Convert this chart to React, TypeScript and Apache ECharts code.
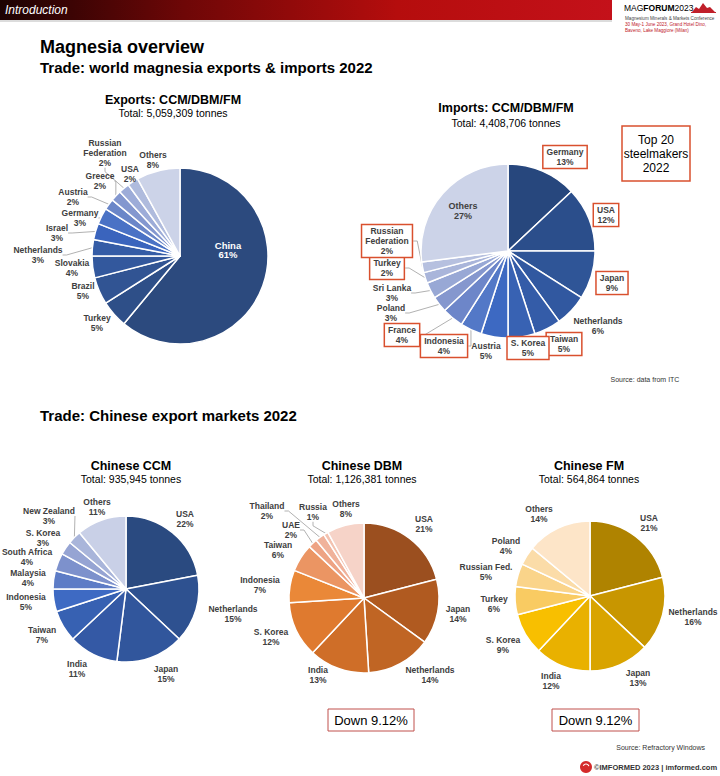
import React, { useEffect, useRef } from "react";
import * as echarts from "echarts";

// ---------- DATA ----------
const exportNames = ["China", "Turkey", "Brazil", "Slovakia", "Netherlands", "Israel", "Germany", "Austria", "Greece", "Russian\nFederation", "USA", "Others"];
const exportValues = [61, 5, 5, 4, 3, 3, 3, 2, 2, 2, 2, 8];

const importNames = ["Germany", "USA", "Japan", "Netherlands", "Taiwan", "S. Korea", "Austria", "Indonesia", "France", "Poland", "Sri Lanka", "Turkey", "Russian\nFederation", "Others"];
const importValues = [13, 12, 9, 6, 5, 5, 5, 4, 4, 3, 3, 2, 2, 27];
const importBoxed = ["Germany", "USA", "Japan", "Taiwan", "S. Korea", "Indonesia", "France", "Turkey", "Russian\nFederation"];

const ccmNames = ["USA", "Netherlands", "Japan", "India", "Taiwan", "Indonesia", "Malaysia", "South Africa", "S. Korea", "New Zealand", "Others"];
const ccmValues = [22, 15, 15, 11, 7, 5, 4, 4, 3, 3, 11];

const dbmNames = ["USA", "Japan", "Netherlands", "India", "S. Korea", "Indonesia", "Taiwan", "UAE", "Thailand", "Russia", "Others"];
const dbmValues = [21, 14, 14, 13, 12, 7, 6, 2, 2, 1, 8];

const fmNames = ["USA", "Netherlands", "Japan", "India", "S. Korea", "Turkey", "Russian Fed.", "Poland", "Others"];
const fmValues = [21, 16, 13, 12, 9, 6, 5, 4, 14];

const exportTotal = "5,059,309";
const importTotal = "4,408,706";
const ccmTotal = "935,945";
const dbmTotal = "1,126,381";
const fmTotal = "564,864";
const changeLabel = "Down 9.12%";

// ---------- PALETTES ----------
const exportColors = ["#2c4a7e", "#2e4f88", "#315493", "#33589d", "#355ca6", "#3a64bd", "#4a72c5", "#6a86c8", "#8397cf", "#9dacd8", "#afbbdd", "#ccd3e8"];
const importColors = ["#27477d", "#2b4e8b", "#2f5597", "#3158a0", "#345ca8", "#3862b3", "#3d69c2", "#5378c7", "#6d86c9", "#8597ce", "#98a8d5", "#a9b5da", "#b6c0df", "#ccd3e8"];
const ccmColors = ["#2a4a80", "#2e5190", "#31569c", "#3459a5", "#3761b2", "#3e6ac3", "#5d7cc6", "#7d91cc", "#96a4d3", "#a9b5da", "#c9d0e7"];
const dbmColors = ["#9b4f1f", "#b05a20", "#c06524", "#cf6e28", "#df7a2f", "#ea8838", "#eb9563", "#eea384", "#f0b29b", "#f3c2b0", "#f6d3c8"];
const fmColors = ["#af8300", "#c89600", "#d9a400", "#e9b100", "#f8bf00", "#f9cb62", "#fad48a", "#fbdca8", "#fde5c8"];

// ---------- LABEL LAYOUT (offsets of each label from its pie's centre, as placed in the slide) ----------
const exportLabelOffsets = [[48, -6], [-83, 67], [-97, 35], [-108, 12], [-142, -1], [-123, -23], [-100, -38], [-107, -59], [-80, -75], [-75, -103], [-50, -82], [-27, -96]];
const importLabelOffsets = [[57, -94], [98, -36], [104, 32], [90, 75], [56, 93], [20, 97], [-22, 100], [-64, 95], [-106, 84], [-117, 62], [-116, 42], [-121, 17], [-121, -10], [-45, -40]];
const ccmLabelOffsets = [[59, -70], [107, 25], [40, 85], [-49, 80], [-84, 46], [-100, 13], [-98, -11], [-99, -32], [-83, -51], [-77, -73], [-29, -82]];
const dbmLabelOffsets = [[60, -74], [94, 16], [66, 77], [-46, 77], [-93, 39], [-104, -13], [-86, -48], [-73, -68], [-97, -87], [-51, -86], [-18, -89]];
const fmLabelOffsets = [[59, -73], [103, 21], [48, 82], [-39, 85], [-87, 49], [-96, 8], [-104, -24], [-84, -50], [-51, -82]];

const exportLined = ["Netherlands", "Israel", "Germany", "Austria", "Greece", "Russian\nFederation", "USA"];
const importLined = ["Indonesia", "France", "Poland", "Sri Lanka", "Turkey", "Russian\nFederation"];
const ccmLined = ["New Zealand"];
const dbmLined = ["UAE", "Thailand", "Russia"];
const fmLined: string[] = [];

const FONT = "Liberation Sans, Arial, sans-serif";
const LABEL_COLOR = "#404040";
const BOX_RED = "#d9502e";
const LINE_COLOR = "#a8a8a8";

function makeData(names: string[], values: number[], colors: string[], lined: string[], extra?: (n: string) => any) {
  return names.map((n, i) => {
    const item: any = {
      name: n,
      value: values[i],
      itemStyle: { color: colors[i] },
      labelLine: { show: lined.includes(n), length: 4, length2: 4, lineStyle: { color: LINE_COLOR, width: 0.9 } },
    };
    const e = extra ? extra(n) : null;
    if (e) item.label = e;
    return item;
  });
}

function pie(id: string, data: any[], center: [number, number], radius: number, offsets: number[][]) {
  return {
    type: "pie",
    id,
    center,
    radius,
    startAngle: 90,
    clockwise: true,
    avoidLabelOverlap: false,
    minShowLabelAngle: 0,
    itemStyle: { borderColor: "#ffffff", borderWidth: 1.5 },
    label: {
      show: true,
      position: "outside",
      formatter: (p: any) => `${p.name}\n${p.value}%`,
      fontFamily: FONT,
      fontSize: 8.5,
      fontWeight: "bold",
      color: LABEL_COLOR,
      lineHeight: 9.8,
      align: "center",
      overflow: "none",
    },
    labelLine: { show: true, length: 4, length2: 4, lineStyle: { color: LINE_COLOR, width: 0.9 } },
    labelLayout: (p: any) => {
      const o = offsets[p.dataIndex] || [0, 0];
      return { x: center[0] + o[0], y: center[1] + o[1], align: "center", verticalAlign: "middle" };
    },
    emphasis: { disabled: true },
    data,
  };
}

function titleText(x: number, y: number, text: string, size: number, bold: boolean, align = "center", color = "#000") {
  return {
    type: "text",
    style: {
      x, y, text, fill: color,
      font: `${bold ? "bold " : ""}${size}px ${FONT}`,
      textAlign: align, textVerticalAlign: "middle",
    },
  };
}

export default function App() {
  const ref = useRef<HTMLDivElement>(null);

  useEffect(() => {
    if (!ref.current) return;
    const chart = echarts.init(ref.current, null, { renderer: "svg" });

    const exportData = makeData(exportNames, exportValues, exportColors, exportLined, (n) =>
      n === "China" ? { position: "inside", color: "#ffffff", fontSize: 9.5 } : null
    );
    const importData = makeData(importNames, importValues, importColors, importLined, (n) => {
      if (n === "Others") return { position: "inside", color: LABEL_COLOR, fontSize: 9 };
      if (importBoxed.includes(n)) return { borderColor: BOX_RED, borderWidth: 1.5, padding: [1, 3], backgroundColor: "#ffffff" };
      return null;
    });
    const ccmData = makeData(ccmNames, ccmValues, ccmColors, ccmLined);
    const dbmData = makeData(dbmNames, dbmValues, dbmColors, dbmLined);
    const fmData = makeData(fmNames, fmValues, fmColors, fmLined);

    const graphics: any[] = [
      // header bar
      {
        type: "rect",
        shape: { x: 0, y: 0, width: 612, height: 20 },
        style: {
          fill: new echarts.graphic.LinearGradient(0, 0, 1, 0, [
            { offset: 0, color: "#1c0202" },
            { offset: 0.3, color: "#6e0707" },
            { offset: 0.65, color: "#b50d0d" },
            { offset: 1, color: "#c4111a" },
          ]),
        },
      },
      { type: "rect", shape: { x: 0, y: 20, width: 612, height: 2 }, style: { fill: "#dcdcdc" } },
      {
        type: "text",
        style: { x: 5, y: 10, text: "Introduction", fill: "#ffffff", font: `italic 12px ${FONT}`, textVerticalAlign: "middle" },
      },
      // MAGFORUM logo
      {
        type: "text",
        style: {
          x: 624, y: 8, textVerticalAlign: "middle",
          text: "{a|MAG}{b|FORUM}{c|2023}",
          rich: {
            a: { fontFamily: FONT, fontSize: 8.5, color: "#c0202a" },
            b: { fontFamily: FONT, fontSize: 8.5, fontWeight: "bold", color: "#c0202a" },
            c: { fontFamily: FONT, fontSize: 8.5, color: "#555555" },
          },
        },
      },
      {
        type: "polygon",
        shape: { points: [[692, 12], [696, 7], [699, 9], [703, 3], [707, 8], [710, 7], [715, 12]] },
        style: { fill: "#c0202a" },
      },
      { type: "rect", shape: { x: 691, y: 12, width: 25, height: 1 }, style: { fill: "#c0202a" } },
      { type: "text", style: { x: 625, y: 18, text: "Magnesium Minerals & Markets Conference", fill: "#444", font: `4.6px ${FONT}`, textVerticalAlign: "middle" } },
      { type: "text", style: { x: 625, y: 24, text: "30 May-1 June 2023, Grand Hotel Dino,", fill: "#c0202a", font: `4.6px ${FONT}`, textVerticalAlign: "middle" } },
      { type: "text", style: { x: 625, y: 30, text: "Baveno, Lake Maggiore (Milan)", fill: "#c0202a", font: `4.6px ${FONT}`, textVerticalAlign: "middle" } },

      // headings
      titleText(40, 47, "Magnesia overview", 18, true, "left"),
      titleText(40, 67, "Trade: world magnesia exports & imports 2022", 15, true, "left"),
      titleText(40, 415, "Trade: Chinese export markets 2022", 15, true, "left"),

      // pie titles
      titleText(173, 100, "Exports: CCM/DBM/FM", 12.5, true),
      titleText(173, 113, `Total: ${exportTotal} tonnes`, 10.5, false),
      titleText(506, 108, "Imports: CCM/DBM/FM", 12.5, true),
      titleText(506, 123, `Total: ${importTotal} tonnes`, 10.5, false),
      titleText(131, 466, "Chinese CCM", 12.5, true),
      titleText(131, 479, `Total: ${ccmTotal} tonnes`, 10.5, false),
      titleText(362, 466, "Chinese DBM", 12.5, true),
      titleText(362, 479, `Total: ${dbmTotal} tonnes`, 10.5, false),
      titleText(589, 466, "Chinese FM", 12.5, true),
      titleText(589, 479, `Total: ${fmTotal} tonnes`, 10.5, false),

      // Top 20 box
      { type: "rect", shape: { x: 622, y: 126, width: 68, height: 55 }, style: { fill: "#fff", stroke: BOX_RED, lineWidth: 1.5 } },
      {
        type: "text",
        style: { x: 656, y: 153.5, text: "Top 20\nsteelmakers\n2022", fill: "#000", font: `12px ${FONT}`, textAlign: "center", textVerticalAlign: "middle", lineHeight: 14 },
      },
      titleText(645, 379, "Source: data from ITC", 7, false, "center", "#333"),

      // Down boxes
      { type: "rect", shape: { x: 328, y: 709, width: 86, height: 22 }, style: { fill: "#fff", stroke: "#c0504d", lineWidth: 1 } },
      titleText(371, 720, changeLabel, 13, false),
      { type: "rect", shape: { x: 552, y: 709, width: 87, height: 22 }, style: { fill: "#fff", stroke: "#c0504d", lineWidth: 1 } },
      titleText(595.5, 720, changeLabel, 13, false),

      // footer
      titleText(705, 747, "Source: Refractory Windows", 7, false, "right", "#333"),
      { type: "circle", shape: { cx: 586, cy: 767, r: 6 }, style: { fill: "#d42a2a" } },
      { type: "arc", shape: { cx: 586, cy: 767, r: 3, startAngle: 3.6, endAngle: 6.0 }, style: { stroke: "#fff", lineWidth: 1.2, fill: "none" } },
      titleText(594, 767, "©IMFORMED 2023 | imformed.com", 7.5, true, "left", "#333"),
    ];

    chart.setOption({
      animation: false,
      backgroundColor: "#ffffff",
      textStyle: { fontFamily: FONT },
      series: [
        pie("exports", exportData, [180, 256], 88, exportLabelOffsets),
        pie("imports", importData, [508, 251], 87, importLabelOffsets),
        pie("ccm", ccmData, [126, 589], 73, ccmLabelOffsets),
        pie("dbm", dbmData, [364, 598], 75, dbmLabelOffsets),
        pie("fm", fmData, [590, 596], 75, fmLabelOffsets),
      ],
      graphic: graphics,
    });

    return () => chart.dispose();
  }, []);

  return (
    <div
      ref={ref}
      style={{ position: "absolute", left: 0, top: 0, width: 720, height: 776, background: "#fff" }}
    />
  );
}
